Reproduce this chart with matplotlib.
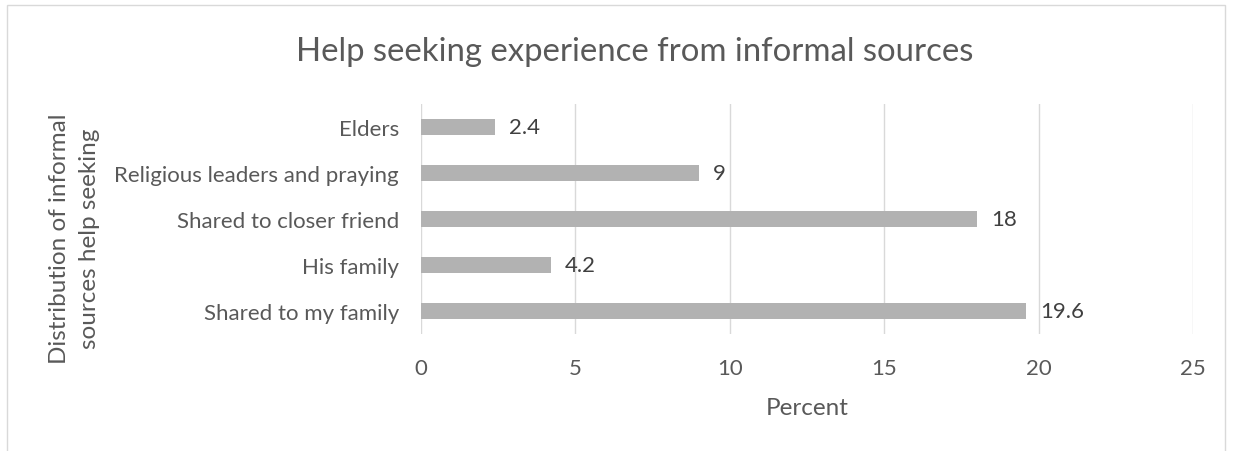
import matplotlib.pyplot as plt
from matplotlib.patches import Rectangle

# Data
sources = ["Shared to my family", "His family", "Shared to closer friend",
           "Religious leaders and praying", "Elders"]
percent = [19.6, 4.2, 18, 9, 2.4]
value_labels = ["19.6", "4.2", "18", "9", "2.4"]
x_ticks = [0, 5, 10, 15, 20, 25]

txt = "#595959"
plt.rcParams['font.family'] = ['Lato', 'DejaVu Sans']

fig = plt.figure(figsize=(12.35, 4.52), dpi=100)
ax = fig.add_axes([421 / 1235, 1 - 335 / 452, 772 / 1235, 230 / 452])

# Border around the chart area
fig.patches.append(Rectangle((7 / 1235, -0.05), 1218 / 1235, 1 - 6 / 452 + 0.05,
                             transform=fig.transFigure, fill=False,
                             edgecolor="#d9d9d9", linewidth=1))

ax.barh(range(len(sources)), percent, height=0.35, color="#b2b2b2", zorder=2)
for i, (v, lab) in enumerate(zip(percent, value_labels)):
    ax.text(v + 0.45, i, lab, va="center", ha="left", fontsize=16, color="#404040")

ax.set_xlim(0, 25)
ax.set_ylim(-0.5, len(sources) - 0.5)
ax.set_xticks(x_ticks)
ax.set_yticks(range(len(sources)))
ax.set_yticklabels(sources)
ax.tick_params(axis="both", length=0, labelsize=16, labelcolor=txt)
ax.tick_params(axis="x", pad=17)
ax.tick_params(axis="y", pad=16)
ax.grid(axis="x", color="#d9d9d9", linewidth=1, zorder=0)
for s in ax.spines.values():
    s.set_visible(False)

ax.set_xlabel("Percent", fontsize=17.5, color=txt, labelpad=14)
ax.set_ylabel("Distribution of informal\nsources help seeking", fontsize=17.5,
              color=txt, labelpad=10, linespacing=1.52)
ax.yaxis.label.set_y((335 - 239) / 230)
fig.text(635 / 1235, 1 - 52 / 452, "Help seeking experience from informal sources",
         ha="center", va="center", fontsize=23.7, color=txt)

fig.savefig("out.png", dpi=100)
